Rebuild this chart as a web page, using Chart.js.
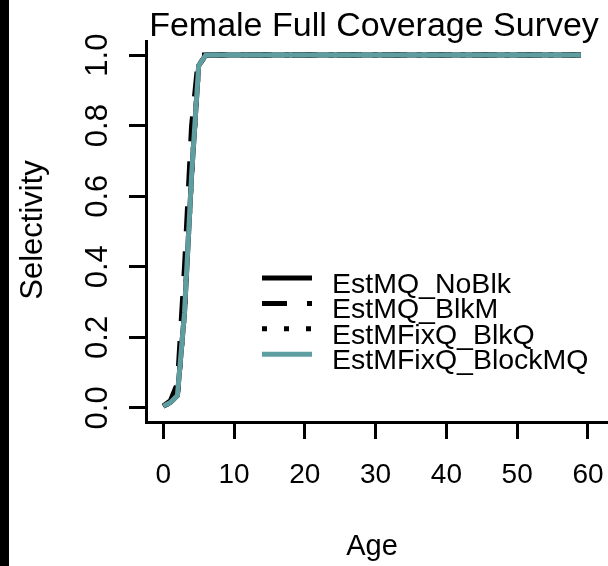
<!DOCTYPE html>
<html>
<head>
<meta charset="utf-8">
<script src="https://cdn.jsdelivr.net/npm/chart.js@4.4.1/dist/chart.umd.min.js"></script>
<style>
html,body{margin:0;padding:0;background:#fff;}
#wrap{width:608px;height:566px;position:relative;overflow:hidden;}
canvas{display:block;}
</style>
</head>
<body>
<div id="wrap"><canvas id="c" width="608" height="566"></canvas></div>
<script>
// ---- data ----
const ages = [0,1,2,3,4,5,6,7,8,9,
  10,11,12,13,14,15,16,17,18,19,
  20,21,22,23,24,25,26,27,28,29,
  30,31,32,33,34,35,36,37,38,39,
  40,41,42,43,44,45,46,47,48,49,
  50,51,52,53,54,55,56,57,58,59];

const estMQ_NoBlk = [0.005,0.015,0.035,0.27,0.66,0.97,1,1,1,1,
  1,1,1,1,1,1,1,1,1,1,
  1,1,1,1,1,1,1,1,1,1,
  1,1,1,1,1,1,1,1,1,1,
  1,1,1,1,1,1,1,1,1,1,
  1,1,1,1,1,1,1,1,1,1];

const estMQ_BlkM = [0.005,0.02,0.07,0.40,0.80,1,1,1,1,1,
  1,1,1,1,1,1,1,1,1,1,
  1,1,1,1,1,1,1,1,1,1,
  1,1,1,1,1,1,1,1,1,1,
  1,1,1,1,1,1,1,1,1,1,
  1,1,1,1,1,1,1,1,1,1];

const estMFixQ_BlkQ = [0.005,0.015,0.035,0.27,0.66,0.97,1,1,1,1,
  1,1,1,1,1,1,1,1,1,1,
  1,1,1,1,1,1,1,1,1,1,
  1,1,1,1,1,1,1,1,1,1,
  1,1,1,1,1,1,1,1,1,1,
  1,1,1,1,1,1,1,1,1,1];

const estMFixQ_BlockMQ = [0.005,0.015,0.035,0.27,0.66,0.97,1,1,1,1,
  1,1,1,1,1,1,1,1,1,1,
  1,1,1,1,1,1,1,1,1,1,
  1,1,1,1,1,1,1,1,1,1,
  1,1,1,1,1,1,1,1,1,1,
  1,1,1,1,1,1,1,1,1,1];

const seriesNames = ['EstMQ_NoBlk','EstMQ_BlkM','EstMFixQ_BlkQ','EstMFixQ_BlockMQ'];
const xTicks = [0,10,20,30,40,50,60];
const yTicks = [0,0.2,0.4,0.6,0.8,1.0];
const yTickLabels = ['0.0','0.2','0.4','0.6','0.8','1.0'];
const titleText = 'Female Full Coverage Survey';
const xTitle = 'Age';
const yTitle = 'Selectivity';

// ---- chart ----
const FONT = "'Liberation Sans', Arial, Helvetica, sans-serif";
const toPts = arr => ages.map((a,i)=>({x:a, y:arr[i]}));

const decor = {
  id:'decor',
  beforeDraw(chart){
    const ctx = chart.ctx;
    ctx.save();
    ctx.fillStyle = '#fff';
    ctx.fillRect(0,0,chart.width,chart.height);
    ctx.fillStyle = '#000';
    ctx.fillRect(0,0,9,chart.height);
    ctx.restore();
  },
  afterDraw(chart){
    const ctx = chart.ctx;
    ctx.save();
    ctx.fillStyle = '#000';
    // title
    ctx.font = '34px ' + FONT;
    ctx.textAlign = 'center';
    ctx.textBaseline = 'alphabetic';
    ctx.fillText(titleText, 374, 36);
    // x title
    ctx.font = '29px ' + FONT;
    ctx.fillText(xTitle, 372, 555);
    // y title
    ctx.save();
    ctx.translate(42, 230);
    ctx.rotate(-Math.PI/2);
    ctx.font = '31px ' + FONT;
    ctx.fillText(yTitle, 0, 0);
    ctx.restore();
    // y tick labels (rotated)
    const ys = chart.scales.y;
    ys.ticks.forEach((t,i)=>{
      const py = ys.getPixelForValue(t.value);
      ctx.save();
      ctx.translate(107, py);
      ctx.rotate(-Math.PI/2);
      ctx.font = '31px ' + FONT;
      ctx.textAlign = 'center';
      ctx.fillText(yTickLabels[i], 0, 0);
      ctx.restore();
    });
    // legend
    const lx0 = 262, lx1 = 312, ly0 = 278, dy = 25.4, tx = 332;
    chart.data.datasets.forEach((ds,i)=>{
      const y = ly0 + i*dy;
      ctx.save();
      ctx.strokeStyle = ds.borderColor;
      ctx.lineWidth = ds.borderWidth;
      ctx.setLineDash(ds.borderDash || []);
      ctx.lineCap = 'butt';
      ctx.beginPath();
      ctx.moveTo(lx0, y);
      ctx.lineTo(lx1, y);
      ctx.stroke();
      ctx.restore();
      ctx.font = '28.5px ' + FONT;
      ctx.textAlign = 'left';
      ctx.fillStyle = '#000';
      ctx.fillText(ds.label, tx, y + 15);
    });
    ctx.restore();
  }
};

const gridOpts = {display:true, drawOnChartArea:false, drawTicks:true, tickLength:17, tickWidth:3, tickColor:'#000', color:'#000', lineWidth:3};
const borderOpts = {display:true, color:'#000', width:3};

new Chart(document.getElementById('c'), {
  type:'line',
  data:{
    datasets:[
      {label:seriesNames[0], data:toPts(estMQ_NoBlk), borderColor:'#000000', borderWidth:5, borderDash:[], order:3},
      {label:seriesNames[1], data:toPts(estMQ_BlkM), borderColor:'#000000', borderWidth:5, borderDash:[25,20], order:1},
      {label:seriesNames[2], data:toPts(estMFixQ_BlkQ), borderColor:'#000000', borderWidth:5, borderDash:[5,17], order:2},
      {label:seriesNames[3], data:toPts(estMFixQ_BlockMQ), borderColor:'#5F9EA0', borderWidth:5, borderDash:[], order:0}
    ].map(d=>Object.assign(d,{pointRadius:0, tension:0, fill:false, borderCapStyle:'butt', borderJoinStyle:'round'}))
  },
  options:{
    responsive:false,
    devicePixelRatio:1,
    animation:false,
    layout:{padding:{top:41, left:0, right:0, bottom:0}},
    plugins:{legend:{display:false}, title:{display:false}, tooltip:{enabled:false}},
    scales:{
      x:{
        type:'linear', position:'bottom', min:-2.44, max:62.83,
        afterBuildTicks:s=>{s.ticks = xTicks.map(v=>({value:v}));},
        afterFit:s=>{s.height = 144; s.paddingLeft = 0; s.paddingRight = 0; s.paddingTop = 0; s.paddingBottom = 0;},
        ticks:{font:{family:FONT, size:28}, color:'#000', padding:19, maxRotation:0, minRotation:0, autoSkip:false},
        grid:gridOpts, border:borderOpts
      },
      y:{
        type:'linear', position:'left', min:-0.04, max:1.04,
        afterBuildTicks:s=>{s.ticks = yTicks.map(v=>({value:v}));},
        afterFit:s=>{s.width = 146; s.paddingLeft = 0; s.paddingRight = 0; s.paddingTop = 0; s.paddingBottom = 0;},
        ticks:{display:false},
        grid:gridOpts, border:borderOpts
      }
    }
  },
  plugins:[decor]
});
</script>
</body>
</html>
